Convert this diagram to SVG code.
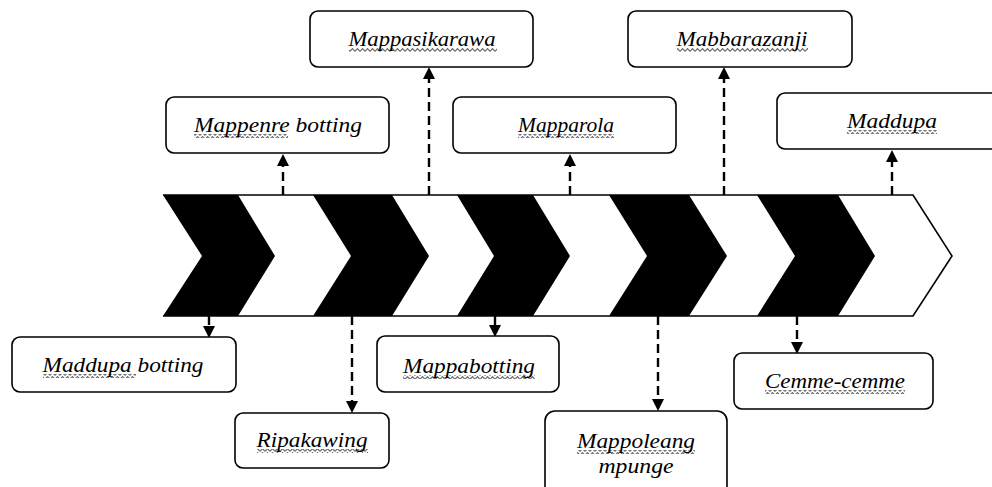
<svg xmlns="http://www.w3.org/2000/svg" width="992" height="487" viewBox="0 0 992 487">
<style>
.box{fill:#fff;stroke:#000;stroke-width:1.6}
.lbl{font-family:"Liberation Serif","DejaVu Serif",serif;font-style:italic;font-size:22px;fill:#000;text-anchor:middle}
.con{stroke:#000;stroke-width:2.4;stroke-dasharray:9,5;fill:none}
.band{fill:#fff;stroke:#000;stroke-width:1.6}
.chev{fill:#000}
.wav{fill:url(#wave)}
</style>
<defs>
<pattern id="wave" width="5" height="4" patternUnits="userSpaceOnUse">
<path d="M0,3.4 L2.5,0.6 L5,3.4" fill="none" stroke="#666" stroke-width="1.1"/>
</pattern>
<marker id="ah" markerUnits="userSpaceOnUse" markerWidth="12" markerHeight="12" viewBox="0 0 10 10" refX="0" refY="5" orient="auto">
<path d="M0,0 L10,5 L0,10 z" fill="#000"/>
</marker>
</defs>

<g id="band">
<polygon points="163,195 913,195 952,256 913,316 163,316 202,256" fill="#fff"/>
<polyline class="band" fill="none" points="163,195 913,195 952,256 913,316 163,316"/>
<polygon class="chev" points="163,195 238,195 275,256 238,316 163,316 202,256"/>
<polygon class="chev" points="313,195 392,195 429,256 392,316 313,316 351,256"/>
<polygon class="chev" points="457,195 533,195 570,256 533,316 457,316 494,256"/>
<polygon class="chev" points="609,195 689,195 727,256 689,316 609,316 647,256"/>
<polygon class="chev" points="757,195 838,195 875,256 838,316 757,316 795,256"/>
</g>

<g id="connectors">
<line class="con" x1="283" y1="195" x2="283" y2="166" marker-end="url(#ah)"/>
<line class="con" x1="429" y1="195" x2="429" y2="79" marker-end="url(#ah)"/>
<line class="con" x1="570" y1="195" x2="570" y2="166" marker-end="url(#ah)"/>
<line class="con" x1="724" y1="195" x2="724" y2="79" marker-end="url(#ah)"/>
<line class="con" x1="892" y1="195" x2="892" y2="162" marker-end="url(#ah)"/>
<line class="con" x1="209" y1="316" x2="209" y2="326" marker-end="url(#ah)"/>
<line class="con" x1="352" y1="316" x2="352" y2="401" marker-end="url(#ah)"/>
<line class="con" x1="495" y1="316" x2="495" y2="325" marker-end="url(#ah)"/>
<line class="con" x1="658" y1="316" x2="658" y2="399" marker-end="url(#ah)"/>
<line class="con" x1="797" y1="316" x2="797" y2="342" marker-end="url(#ah)"/>
</g>

<g id="n-mappenre">
<rect class="box" x="166" y="97" width="223" height="56" rx="8"/>
<rect class="wav" x="194" y="134" width="94" height="4"/>
<text class="lbl" x="278" y="132" textLength="168" lengthAdjust="spacingAndGlyphs">Mappenre botting</text>
</g>
<g id="n-mappasikarawa">
<rect class="box" x="310" y="11" width="223" height="56" rx="8"/>
<rect class="wav" x="349" y="48" width="148" height="4"/>
<text class="lbl" x="422" y="46" textLength="147" lengthAdjust="spacingAndGlyphs">Mappasikarawa</text>
</g>
<g id="n-mapparola">
<rect class="box" x="453" y="97" width="223" height="56" rx="8"/>
<rect class="wav" x="518" y="134" width="96" height="4"/>
<text class="lbl" x="566" y="132" textLength="96" lengthAdjust="spacingAndGlyphs">Mapparola</text>
</g>
<g id="n-mabbarazanji">
<rect class="box" x="628" y="11" width="224" height="56" rx="8"/>
<rect class="wav" x="677" y="48" width="131" height="4"/>
<text class="lbl" x="742" y="46" textLength="131" lengthAdjust="spacingAndGlyphs">Mabbarazanji</text>
</g>
<g id="n-maddupa">
<rect class="box" x="777" y="93" width="230" height="56" rx="8"/>
<rect class="wav" x="847" y="130" width="90" height="4"/>
<text class="lbl" x="892" y="128" textLength="90" lengthAdjust="spacingAndGlyphs">Maddupa</text>
</g>
<g id="n-maddupa-botting">
<rect class="box" x="12" y="337" width="224" height="55" rx="8"/>
<rect class="wav" x="43" y="374" width="93" height="4"/>
<text class="lbl" x="123" y="372" textLength="161" lengthAdjust="spacingAndGlyphs">Maddupa botting</text>
</g>
<g id="n-ripakawing">
<rect class="box" x="235" y="413" width="154" height="55" rx="8"/>
<rect class="wav" x="257" y="449" width="111" height="4"/>
<text class="lbl" x="312" y="447" textLength="111" lengthAdjust="spacingAndGlyphs">Ripakawing</text>
</g>
<g id="n-mappabotting">
<rect class="box" x="377" y="336" width="182" height="56" rx="8"/>
<rect class="wav" x="403" y="375" width="132" height="4"/>
<text class="lbl" x="469" y="373" textLength="132" lengthAdjust="spacingAndGlyphs">Mappabotting</text>
</g>
<g id="n-mappoleang">
<rect class="box" x="545" y="411" width="182" height="90" rx="10"/>
<rect class="wav" x="577" y="450" width="118" height="4"/>
<text class="lbl" x="636" y="448" textLength="118" lengthAdjust="spacingAndGlyphs">Mappoleang</text>
<text class="lbl" x="636" y="473" textLength="75" lengthAdjust="spacingAndGlyphs">mpunge</text>
</g>
<g id="n-cemme">
<rect class="box" x="734" y="353" width="199" height="56" rx="8"/>
<rect class="wav" x="765" y="390" width="140" height="4"/>
<text class="lbl" x="835" y="388" textLength="140" lengthAdjust="spacingAndGlyphs">Cemme-cemme</text>
</g>
</svg>
